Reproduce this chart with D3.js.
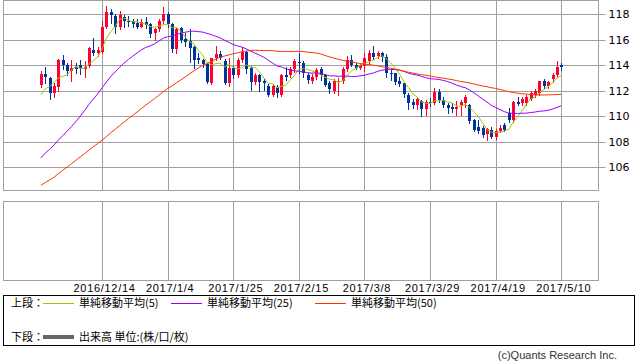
<!DOCTYPE html>
<html>
<head>
<meta charset="utf-8">
<script src="https://cdn.jsdelivr.net/npm/d3@7"></script>
<style>
body { margin: 0; background: #fff; }
svg { display: block; font-family: "Liberation Sans", Arial, sans-serif; }
.jp { font-family: "Noto Sans CJK JP", sans-serif; }
</style>
</head>
<body>
<div id="chart"></div>
<script>
// USD/JPY daily candles, 2016/11/24 - 2017/5/10 (weekdays)
const firstDay = "2016-11-24";
const dayCount = 120;
const openP = [
    112.43, 113.32, 113.00, 111.85, 112.32, 114.42, 114.00, 113.53, 113.89, 114.00,
    113.74, 113.95, 115.20, 114.99, 115.04, 116.98, 118.18, 117.87, 117.03, 117.77,
    117.50, 117.45, 117.34, 117.03, 117.40, 117.24, 116.51, 116.87, 117.45, 118.00,
    117.25, 115.30, 116.90, 116.10, 115.90, 115.40, 114.60, 114.40, 114.10, 112.60,
    114.60, 114.85, 114.36, 112.64, 113.80, 113.20, 114.40, 115.04, 113.80, 112.69,
    113.26, 112.79, 112.38, 111.70, 112.27, 111.64, 113.21, 113.20, 113.70, 114.26,
    114.15, 113.26, 112.80, 113.06, 113.68, 113.20, 112.64, 112.00, 112.70, 112.74,
    113.70, 114.42, 114.05, 113.80, 113.95, 114.30, 114.94, 114.75, 114.94, 114.68,
    113.42, 113.37, 112.74, 112.60, 111.70, 111.12, 110.88, 111.20, 110.60, 111.10,
    111.02, 111.90, 111.28, 110.91, 110.70, 110.60, 110.86, 111.02, 110.90, 109.71,
    109.13, 109.08, 108.60, 108.93, 108.35, 108.87, 109.34, 110.23, 109.71, 111.12,
    111.02, 111.05, 111.38, 111.70, 111.80, 112.74, 112.38, 112.90, 113.21, 113.99
];
const highP = [
    113.58, 113.89, 113.11, 112.59, 114.52, 114.78, 114.21, 114.42, 114.21, 114.42,
    114.31, 115.41, 116.14, 115.41, 117.50, 118.65, 118.39, 118.02, 118.23, 117.97,
    117.87, 117.61, 117.61, 117.66, 117.77, 117.29, 116.93, 117.61, 118.60, 118.20,
    117.35, 116.95, 117.00, 116.50, 116.87, 115.50, 115.00, 114.50, 114.20, 114.60,
    115.50, 115.10, 114.50, 114.60, 113.95, 114.55, 115.46, 115.10, 113.95, 113.40,
    113.35, 112.95, 112.50, 112.50, 112.45, 113.30, 113.89, 113.90, 114.52, 114.94,
    114.31, 113.42, 113.30, 113.80, 113.85, 113.30, 112.80, 112.90, 113.00, 113.85,
    114.70, 114.78, 114.20, 114.15, 114.94, 115.20, 115.51, 115.10, 115.04, 114.89,
    113.63, 113.40, 113.10, 112.65, 111.80, 111.38, 111.50, 111.28, 111.30, 111.40,
    112.20, 112.17, 111.49, 111.02, 111.07, 111.23, 111.28, 111.70, 110.95, 109.80,
    109.71, 109.20, 109.10, 109.13, 109.00, 109.30, 109.45, 110.65, 111.17, 111.49,
    111.50, 111.70, 111.96, 112.15, 112.80, 112.90, 112.80, 113.37, 114.36, 114.21
];
const lowP = [
    112.30, 112.64, 111.33, 111.54, 112.01, 113.68, 113.21, 112.74, 113.42, 113.32,
    113.06, 113.89, 114.78, 114.73, 114.94, 116.93, 117.29, 116.51, 116.87, 117.03,
    117.08, 117.03, 116.93, 116.98, 116.93, 116.19, 115.98, 116.66, 117.30, 117.00,
    115.05, 115.00, 115.80, 115.50, 114.25, 113.75, 114.20, 113.90, 112.60, 112.50,
    114.40, 114.50, 112.50, 112.38, 113.00, 113.10, 114.26, 113.37, 112.06, 112.50,
    112.01, 112.10, 111.59, 111.60, 111.54, 111.60, 112.85, 113.10, 113.50, 113.42,
    113.06, 112.64, 112.60, 112.95, 112.85, 112.40, 111.85, 111.85, 111.65, 112.58,
    113.53, 113.95, 113.70, 113.70, 113.53, 114.10, 114.52, 114.60, 114.36, 113.11,
    112.85, 112.53, 112.38, 111.54, 110.60, 110.65, 110.55, 110.05, 110.08, 110.80,
    110.95, 111.12, 110.75, 110.23, 110.34, 110.08, 110.08, 110.75, 109.45, 108.85,
    108.72, 108.40, 108.14, 108.30, 108.25, 108.80, 108.85, 109.55, 109.55, 110.86,
    110.90, 110.90, 111.28, 111.55, 111.70, 112.22, 112.20, 112.69, 113.06, 113.63
];
const closeP = [
    113.32, 113.06, 111.85, 112.38, 114.42, 114.00, 113.53, 113.79, 113.74, 113.79,
    113.89, 115.36, 114.99, 115.20, 116.98, 118.18, 117.92, 116.98, 117.92, 117.50,
    117.40, 117.24, 117.03, 117.40, 117.13, 116.45, 116.87, 117.50, 118.00, 117.25,
    115.25, 116.87, 115.95, 115.80, 115.35, 114.45, 114.40, 114.10, 112.70, 114.55,
    114.90, 114.60, 112.64, 113.80, 113.21, 114.40, 115.04, 113.74, 112.69, 113.26,
    112.69, 112.64, 111.70, 112.38, 111.80, 113.21, 113.11, 113.70, 114.30, 114.15,
    113.42, 112.85, 113.10, 113.63, 113.20, 112.48, 112.15, 112.74, 112.80, 113.74,
    114.45, 114.02, 113.80, 114.00, 114.55, 114.94, 114.68, 114.94, 114.62, 113.37,
    113.32, 112.70, 112.53, 111.73, 111.07, 110.90, 111.38, 110.60, 111.12, 111.05,
    111.90, 111.28, 110.86, 110.65, 110.60, 110.75, 111.12, 111.49, 109.60, 108.93,
    108.87, 108.51, 108.98, 108.35, 108.87, 109.08, 108.93, 109.71, 111.12, 110.96,
    111.33, 111.54, 111.80, 112.01, 112.74, 112.38, 112.69, 113.27, 113.89, 113.84
];
// closes of the 49 sessions before the first candle (feed the moving averages)
const priorCloses = [
    102.3, 101.8, 101.7, 100.3, 100.8, 101.0, 100.4, 100.4, 100.7, 101.0,
    101.3, 101.8, 102.9, 103.5, 103.9, 102.9, 103.7, 103.5, 104.2, 103.6,
    104.2, 103.9, 103.8, 103.4, 103.9, 103.8, 104.2, 104.3, 104.5, 105.3,
    104.7, 104.8, 104.2, 102.9, 103.0, 103.1, 104.5, 105.1, 105.2, 106.8,
    106.6, 108.4, 109.1, 109.1, 110.2, 110.9, 110.8, 111.0, 112.5
];
const maPeriods = [5, 25, 50];
const maColors = ["#99cc00", "#9900ff", "#ff3300"];
const priceTicks = [106, 108, 110, 112, 114, 116, 118];
const dateTicks = ["2016/12/14", "2017/1/4", "2017/1/25", "2017/2/15",
    "2017/3/8", "2017/3/29", "2017/4/19", "2017/5/10"];

const width = 638, height = 362;
const upper = { left: 3, right: 598, top: 0, bottom: 190 };
const lower = { top: 201, bottom: 280 };
const upColor = "#ff0033", downColor = "#003399", gridColor = "#a0a0a0";

// weekday calendar
const fmt = d3.timeFormat("%Y/%-m/%-d");
const dates = [];
let day = d3.timeParse("%Y-%m-%d")(firstDay);
while (dates.length < dayCount) {
    if (day.getDay() != 0 && day.getDay() != 6) dates.push(fmt(day));
    day = d3.timeDay.offset(day, 1);
}

const candles = dates.map((d, i) => ({ i: i, o: openP[i], h: highP[i], l: lowP[i], c: closeP[i] }));
const allCloses = priorCloses.concat(closeP);
const offset = priorCloses.length;
const maData = maPeriods.map(p => closeP.map((c, i) =>
    [i, d3.mean(allCloses.slice(offset + i - p + 1, offset + i + 1))]));

const svg = d3.select("#chart").append("svg")
    .attr("width", width)
    .attr("height", height);

const x = d3.scaleLinear()
    .domain([0, dayCount - 1])
    .range([40.8, 561.3]);
const y = d3.scaleLinear()
    .domain([106, 118])
    .range([167.3, 14.3]);

const px = v => Math.round(v) + 0.5;

// panels
svg.append("rect")
    .attr("x", 3.5).attr("y", 0.5)
    .attr("width", upper.right - upper.left).attr("height", upper.bottom)
    .attr("fill", "none").attr("stroke", gridColor);
svg.append("rect")
    .attr("x", 3.5).attr("y", lower.top + 0.5)
    .attr("width", upper.right - upper.left).attr("height", lower.bottom - lower.top)
    .attr("fill", "none").attr("stroke", gridColor);

// horizontal grid + price axis
svg.append("g").selectAll("line")
    .data(priceTicks)
    .join("line")
    .attr("x1", upper.left).attr("x2", upper.right)
    .attr("y1", d => px(y(d))).attr("y2", d => px(y(d)))
    .attr("stroke", gridColor);

const yAxis = svg.append("g")
    .attr("transform", "translate(" + (upper.right + 0.5) + " 0)")
    .call(d3.axisRight(y).tickValues(priceTicks).tickSize(7).tickPadding(3))
    .call(g => g.select(".domain").remove());
yAxis.selectAll(".tick").attr("transform", d => "translate(0," + px(y(d)) + ")");
yAxis.selectAll(".tick line").attr("stroke", gridColor);
yAxis.selectAll(".tick text")
    .attr("fill", "#000")
    .style("font-size", "11px")
    .style("font-family", "DejaVu Sans, sans-serif");

// vertical grid in both panels
const tickIdx = dateTicks.map(t => dates.indexOf(t));
[[upper.top, upper.bottom], [lower.top, lower.bottom]].forEach(([t, b]) => {
    svg.append("g").selectAll("line")
        .data(tickIdx)
        .join("line")
        .attr("x1", d => px(x(d))).attr("x2", d => px(x(d)))
        .attr("y1", t).attr("y2", b)
        .attr("stroke", gridColor);
});

// date labels
const xAxis = svg.append("g")
    .attr("transform", "translate(2 " + lower.bottom + ")")
    .call(d3.axisBottom(x).tickValues(tickIdx).tickSize(0).tickPadding(4).tickFormat(i => dates[i]))
    .call(g => g.select(".domain").remove());
xAxis.selectAll(".tick text")
    .attr("fill", "#000")
    .attr("dy", "0.71em")
    .style("font-size", "11px")
    .style("letter-spacing", "0.7px");

// candles
const cg = svg.append("g");
cg.selectAll("line")
    .data(candles)
    .join("line")
    .attr("x1", d => px(x(d.i))).attr("x2", d => px(x(d.i)))
    .attr("y1", d => Math.round(y(d.h))).attr("y2", d => Math.round(y(d.l)) + 1)
    .attr("stroke", d => d.c >= d.o ? upColor : downColor);
cg.selectAll("rect")
    .data(candles)
    .join("rect")
    .attr("x", d => Math.round(x(d.i)) - 1)
    .attr("width", 3)
    .attr("y", d => Math.round(y(Math.max(d.o, d.c))))
    .attr("height", d => Math.max(1, Math.round(y(Math.min(d.o, d.c))) - Math.round(y(Math.max(d.o, d.c)))))
    .attr("fill", d => d.c >= d.o ? upColor : downColor);

// moving averages
const line = d3.line().x(d => x(d[0])).y(d => y(d[1]));
svg.append("g").selectAll("path")
    .data(maData)
    .join("path")
    .attr("d", line)
    .attr("fill", "none")
    .attr("stroke", (d, k) => maColors[k])
    .attr("stroke-width", 1);

// legend
svg.append("rect")
    .attr("x", 3.5).attr("y", 295.5)
    .attr("width", 631).attr("height", 50)
    .attr("fill", "none").attr("stroke", "#000");

const legend = svg.append("g").attr("class", "jp").style("font-size", "11px");
legend.append("text").attr("x", 11).attr("y", 303).attr("dy", "0.35em").text("上段：");
const legendX = [43, 171, 315];
maPeriods.forEach((p, k) => {
    legend.append("line")
        .attr("x1", legendX[k]).attr("x2", legendX[k] + 31)
        .attr("y1", 303.5).attr("y2", 303.5)
        .attr("stroke", maColors[k]);
    legend.append("text")
        .attr("x", legendX[k] + 36).attr("y", 303).attr("dy", "0.35em")
        .text("単純移動平均(" + p + ")");
});
legend.append("text").attr("x", 11).attr("y", 337).attr("dy", "0.35em").text("下段：");
legend.append("line")
    .attr("x1", 43).attr("x2", 74)
    .attr("y1", 337).attr("y2", 337)
    .attr("stroke", "#666").attr("stroke-width", 4);
legend.append("text").attr("x", 79).attr("y", 337).attr("dy", "0.35em").text("出来高 単位:(株/口/枚)");

svg.append("text")
    .attr("x", 617).attr("y", 355).attr("dy", "0.35em")
    .attr("text-anchor", "end")
    .attr("fill", "#333")
    .style("font-size", "11px")
    .text("(c)Quants Research Inc.");
</script>
</body>
</html>
